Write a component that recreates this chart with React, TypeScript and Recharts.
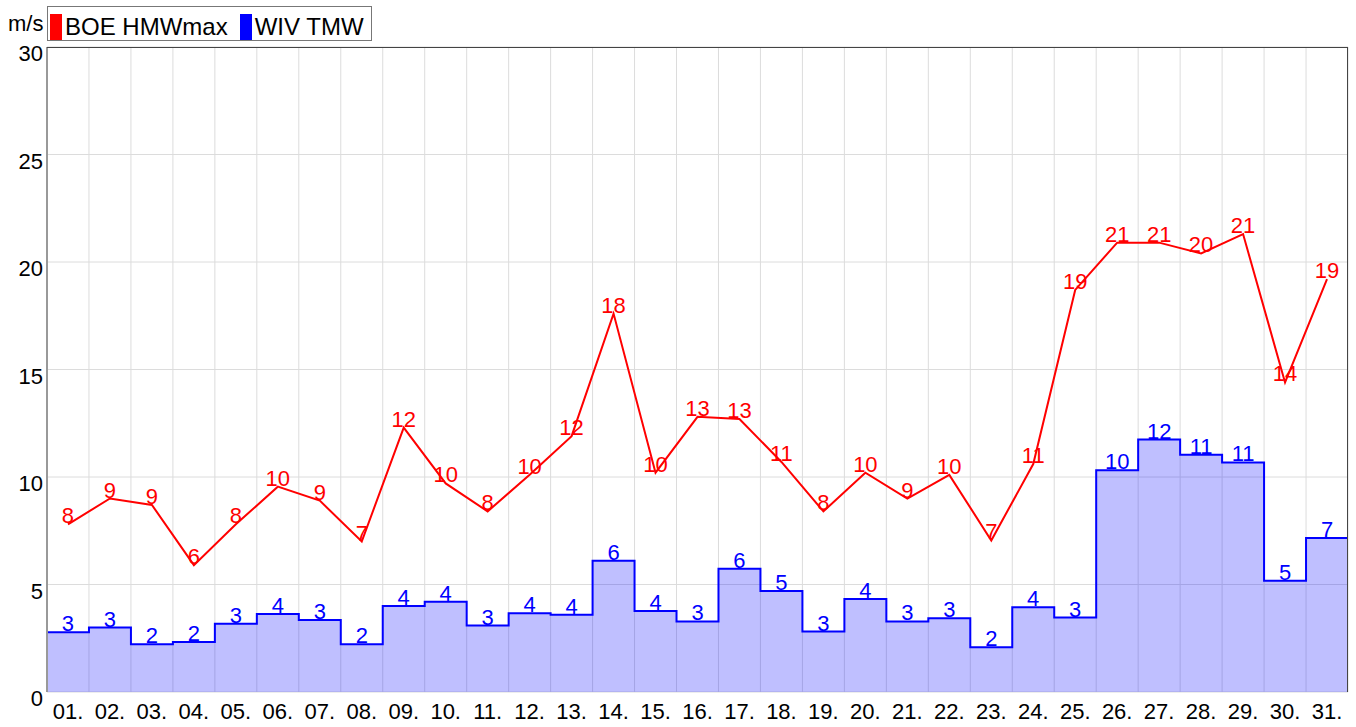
import React from 'react';
import { ComposedChart, Line, Area, XAxis, YAxis, CartesianGrid, LabelList } from 'recharts';

const days = ['01.', '02.', '03.', '04.', '05.', '06.', '07.', '08.', '09.', '10.', '11.', '12.', '13.', '14.', '15.', '16.', '17.', '18.', '19.', '20.', '21.', '22.', '23.', '24.', '25.', '26.', '27.', '28.', '29.', '30.', '31.'];
const boeHmwMax = [7.8, 9.0, 8.7, 5.9, 7.8, 9.55, 8.9, 7.0, 12.3, 9.7, 8.4, 10.1, 11.9, 17.6, 10.2, 12.8, 12.7, 10.7, 8.4, 10.2, 9.0, 10.1, 7.05, 10.6, 18.7, 20.9, 20.9, 20.4, 21.3, 14.4, 19.2];
const wivTmw = [2.78, 3.0, 2.22, 2.33, 3.17, 3.63, 3.35, 2.22, 4.0, 4.2, 3.09, 3.66, 3.59, 6.1, 3.77, 3.28, 5.73, 4.7, 2.81, 4.32, 3.28, 3.43, 2.08, 3.94, 3.46, 10.31, 11.74, 11.04, 10.68, 5.18, 7.16];
const yTicks = [0, 5, 10, 15, 20, 25, 30];
const seriesNames = ['BOE HMWmax', 'WIV TMW'];
const unitLabel = 'm/s';

const redData = days.map((d, i) => ({ x: i + 0.5, v: boeHmwMax[i] }));
const blueLabelData = days.map((d, i) => ({ x: i + 0.5, v: wivTmw[i] }));
const blueStepData = [...wivTmw.map((v, i) => ({ x: i, v })), { x: days.length, v: wivTmw[wivTmw.length - 1] }];
const edgeTicks = Array.from({ length: days.length + 1 }, (_, i) => i);
const centerTicks = days.map((_, i) => i + 0.5);

const FONT = '"Liberation Sans", Arial, sans-serif';

const YTick = (props: any) => {
  const { x, y, payload } = props;
  return (
    <text x={x} y={y + 14} textAnchor="end" fontSize={22} fontFamily={FONT} fill="#000">
      {payload.value}
    </text>
  );
};

const makeLabel = (color: string) => (props: any) => {
  const { x, y, value } = props;
  if (value == null) return null;
  return (
    <text x={x} y={y - 1} textAnchor="middle" fontSize={22} fontFamily={FONT} fill={color}>
      {Math.round(value)}
    </text>
  );
};

const EmptyTick = () => <g />;

export default function App() {
  return (
    <div style={{ position: 'absolute', left: 0, top: 0, width: 1356, height: 727, background: '#fff', fontFamily: FONT }}>
      <div style={{ position: 'absolute', left: 8, top: 12, fontSize: 22, lineHeight: '24px', color: '#000' }}>{unitLabel}</div>
      <div
        style={{
          position: 'absolute',
          left: 47,
          top: 6,
          width: 323,
          height: 33,
          border: '1px solid #777',
          boxSizing: 'content-box',
          display: 'flex',
          alignItems: 'center',
          fontSize: 24,
          color: '#000',
        }}
      >
        <span style={{ display: 'inline-block', width: 12, height: 26, background: '#ff0000', marginLeft: 2, marginRight: 3, marginTop: 6 }} />
        <span style={{ marginTop: 6 }}>{seriesNames[0]}</span>
        <span style={{ display: 'inline-block', width: 12, height: 26, background: '#0000ff', marginLeft: 12, marginRight: 3, marginTop: 6 }} />
        <span style={{ marginTop: 6 }}>{seriesNames[1]}</span>
      </div>
      <ComposedChart width={1356} height={727} margin={{ top: 47, right: 8, bottom: 0, left: 0 }}>
        <CartesianGrid xAxisId="edge" stroke="#dcdcdc" strokeWidth={1} />
        <XAxis
          xAxisId="edge"
          type="number"
          dataKey="x"
          domain={[0, days.length]}
          ticks={edgeTicks}
          allowDataOverflow
          height={0}
          tick={EmptyTick}
          tickSize={5}
          tickLine={{ stroke: '#555', strokeWidth: 1 }}
          axisLine={{ stroke: '#999', strokeWidth: 2 }}
        />
        <XAxis
          xAxisId="lab"
          type="number"
          dataKey="x"
          domain={[0, days.length]}
          ticks={centerTicks}
          allowDataOverflow
          height={35}
          tickLine={false}
          axisLine={false}
          tickSize={6}
          tickMargin={5}
          interval={0}
          tickFormatter={(v: number) => days[Math.floor(v)]}
          tick={{ fontSize: 22, fill: '#000', fontFamily: FONT }}
        />
        <YAxis
          type="number"
          domain={[0, 30]}
          ticks={yTicks}
          width={47}
          tickLine={false}
          tickSize={0}
          tickMargin={4}
          tick={YTick}
          axisLine={{ stroke: '#999', strokeWidth: 2 }}
          allowDataOverflow
        />
        <Area
          xAxisId="edge"
          data={blueStepData}
          dataKey="v"
          type="stepAfter"
          stroke="#0000ff"
          strokeWidth={2}
          fill="#0000ff"
          fillOpacity={0.25}
          isAnimationActive={false}
          dot={false}
          activeDot={false}
        />
        <Line
          xAxisId="edge"
          data={blueLabelData}
          dataKey="v"
          stroke="none"
          dot={false}
          activeDot={false}
          isAnimationActive={false}
        >
          <LabelList dataKey="v" content={makeLabel('#0000ff')} />
        </Line>
        <Line
          xAxisId="edge"
          data={redData}
          dataKey="v"
          type="linear"
          stroke="#ff0000"
          strokeWidth={2}
          dot={false}
          activeDot={false}
          isAnimationActive={false}
        >
          <LabelList dataKey="v" content={makeLabel('#ff0000')} />
        </Line>
        <Line xAxisId="lab" data={redData} dataKey="v" stroke="none" dot={false} activeDot={false} isAnimationActive={false} />
      </ComposedChart>
      <div style={{ position: 'absolute', left: 47, top: 47, width: 1301, height: 0, borderTop: '1px solid #444' }} />
      <div style={{ position: 'absolute', left: 1347, top: 47, width: 0, height: 645, borderLeft: '1px solid #444' }} />
    </div>
  );
}
